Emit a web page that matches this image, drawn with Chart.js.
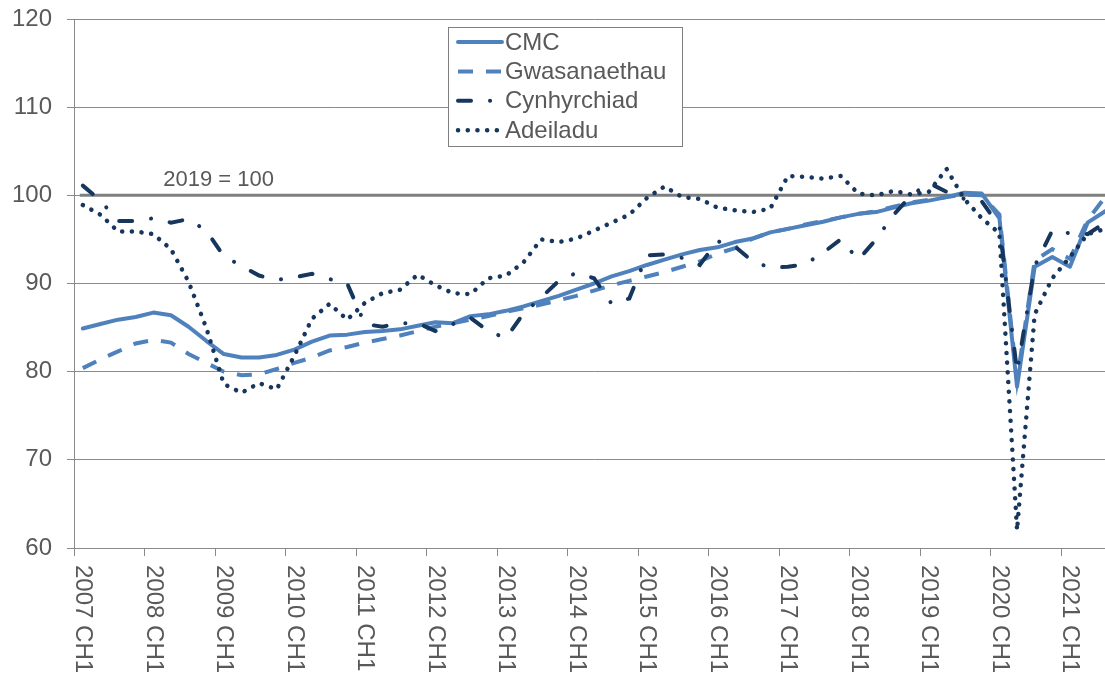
<!DOCTYPE html>
<html>
<head>
<meta charset="utf-8">
<script src="https://cdn.jsdelivr.net/npm/chart.js@4.4.0/dist/chart.umd.min.js"></script>
<style>
  html, body { margin: 0; padding: 0; background: #fff; overflow: hidden; }
  canvas { display: block; }
</style>
</head>
<body>
<canvas id="gdpChart" width="1114" height="677"></canvas>
<script>
// quarters 2007 CH1 .. 2021 CH3
const years = [2007, 2008, 2009, 2010, 2011, 2012, 2013, 2014, 2015, 2016, 2017, 2018, 2019, 2020, 2021];
const categories = [];
years.forEach(y => { for (let q = 1; q <= 4; q++) categories.push(y + ' CH' + q); });
categories.length = 59;

const tickLabels = years.map(y => y + ' CH1');
const yTicks = [60, 70, 80, 90, 100, 110, 120];
const refValue = 100;
const refLabel = '2019 = 100';

const cmc = [
  84.9, 85.4, 85.9, 86.2, 86.7, 86.4, 85.1, 83.5, 82.0, 81.6,
  81.6, 81.9, 82.5, 83.4, 84.1, 84.2, 84.5, 84.6, 84.8, 85.2,
  85.6, 85.5, 86.3, 86.5, 86.9, 87.4, 88.0, 88.6, 89.3, 90.0,
  90.8, 91.4, 92.1, 92.7, 93.3, 93.8, 94.1, 94.7, 95.1, 95.8,
  96.2, 96.6, 97.0, 97.5, 97.9, 98.1, 98.6, 99.1, 99.4, 99.8,
  100.3, 100.2, 97.4, 78.3, 91.9, 93.0, 91.9, 96.9, 98.2
];
const gwasanaethau = [
  80.4, 81.4, 82.3, 83.2, 83.6, 83.3, 82.0, 81.0, 80.0, 79.6,
  79.7, 80.3, 81.0, 81.6, 82.4, 82.8, 83.3, 83.7, 84.1, 84.6,
  85.1, 85.5, 85.9, 86.3, 86.8, 87.2, 87.6, 88.1, 88.6, 89.2,
  89.8, 90.3, 90.8, 91.3, 91.9, 92.5, 93.4, 94.0, 95.1, 95.8,
  96.2, 96.7, 97.1, 97.5, 97.9, 98.2, 98.7, 99.2, 99.5, 99.8,
  100.1, 100.0, 97.8, 79.0, 92.6, 93.9, 92.8, 97.2, 99.8
];
const cynhyrchiad = [
  101.1, 99.4, 97.1, 97.1, 97.4, 96.9, 97.3, 96.0, 93.1, 92.0,
  90.9, 90.4, 90.7, 91.1, 90.5, 90.0, 85.4, 85.1, 85.5, 85.5,
  84.6, 85.4, 86.1, 84.6, 83.8, 86.6, 88.4, 90.3, 91.2, 90.6,
  87.7, 88.3, 93.2, 93.3, 92.9, 92.1, 94.8, 94.2, 92.5, 91.8,
  91.9, 92.2, 93.5, 95.0, 92.7, 95.0, 97.8, 100.0, 101.4, 100.4,
  99.6, 99.3, 96.5, 80.0, 92.0, 96.0, 95.7, 95.6, 96.9
];
const adeiladu = [
  98.9, 97.8, 95.9, 95.9, 95.6, 93.9, 90.2, 85.0, 78.6, 77.6,
  78.7, 78.0, 81.8, 86.0, 87.7, 85.9, 87.8, 88.9, 89.3, 91.0,
  89.8, 88.9, 88.8, 90.6, 90.9, 92.4, 95.0, 94.7, 95.1, 96.0,
  96.9, 97.8, 99.7, 101.0, 99.8, 99.6, 98.6, 98.3, 98.1, 98.5,
  102.2, 102.1, 101.9, 102.2, 100.2, 100.0, 100.5, 100.1, 100.4, 103.0,
  99.6, 97.4, 95.7, 62.0, 86.5, 90.6, 93.0, 95.6, 96.2
];

const BLUE = '#4F81BD';
const NAVY = '#17365D';
const GRID = '#8a8a8a';
const TEXT = '#595959';
const FONT = '"Liberation Sans", Arial, sans-serif';

// grey "2019 = 100" line and its label
const refLinePlugin = {
  id: 'refLine',
  beforeDatasetsDraw(chart) {
    const { ctx, chartArea, scales: { x, y } } = chart;
    const py = y.getPixelForValue(refValue);
    ctx.save();
    ctx.strokeStyle = '#7f7f7f';
    ctx.lineWidth = 3;
    ctx.beginPath();
    ctx.moveTo(x.getPixelForValue(0) - 3, py);
    ctx.lineTo(chartArea.right, py);
    ctx.stroke();
    ctx.font = '22px ' + FONT;
    ctx.fillStyle = TEXT;
    ctx.textAlign = 'center';
    ctx.textBaseline = 'middle';
    ctx.fillText(refLabel, x.getPixelForValue(7.7), y.getPixelForValue(101.8));
    ctx.restore();
  }
};

// x labels read top to bottom, so draw them rotated clockwise
const xLabelPlugin = {
  id: 'xLabels',
  afterDraw(chart) {
    const { ctx, scales: { x } } = chart;
    ctx.save();
    ctx.font = '24px ' + FONT;
    ctx.fillStyle = TEXT;
    ctx.textAlign = 'left';
    ctx.textBaseline = 'middle';
    categories.forEach((c, i) => {
      if (!tickLabels.includes(c)) return;
      ctx.save();
      ctx.translate(x.getPixelForValue(i), x.top + 17);
      ctx.rotate(Math.PI / 2);
      ctx.fillText(c, 0, 0);
      ctx.restore();
    });
    ctx.restore();
  }
};

// boxed legend inside the plot
const legendPlugin = {
  id: 'boxLegend',
  afterDatasetsDraw(chart) {
    const ctx = chart.ctx;
    const bx = 448, by = 27, bw = 234, bh = 119;
    ctx.save();
    ctx.fillStyle = '#fff';
    ctx.fillRect(bx, by, bw, bh);
    ctx.strokeStyle = '#7f7f7f';
    ctx.lineWidth = 1;
    ctx.strokeRect(bx + 0.5, by + 0.5, bw, bh);
    chart.data.datasets.forEach((ds, k) => {
      const ly = by + 15 + k * 29.4;
      ctx.save();
      ctx.strokeStyle = ds.borderColor;
      ctx.lineWidth = ds.borderWidth;
      ctx.lineCap = ds.borderCapStyle || 'butt';
      ctx.setLineDash(ds.borderDash || []);
      ctx.beginPath();
      ctx.moveTo(bx + 10, ly);
      ctx.lineTo(bx + 54, ly);
      ctx.stroke();
      ctx.restore();
      ctx.font = '24px ' + FONT;
      ctx.fillStyle = TEXT;
      ctx.textBaseline = 'middle';
      ctx.fillText(ds.label, bx + 57, ly + 1);
    });
    ctx.restore();
  }
};

new Chart(document.getElementById('gdpChart'), {
  type: 'line',
  data: {
    labels: categories,
    datasets: [
      { label: 'CMC', data: cmc, borderColor: BLUE, borderWidth: 4,
        borderCapStyle: 'round', borderJoinStyle: 'round', order: 4 },
      { label: 'Gwasanaethau', data: gwasanaethau, borderColor: BLUE, borderWidth: 4,
        borderDash: [15, 13], borderCapStyle: 'butt', order: 3 },
      { label: 'Cynhyrchiad', data: cynhyrchiad, borderColor: NAVY, borderWidth: 4,
        borderDash: [13, 19, 0.1, 19], borderCapStyle: 'round', order: 2 },
      { label: 'Adeiladu', data: adeiladu, borderColor: NAVY, borderWidth: 4.5,
        borderDash: [0.1, 9.6], borderCapStyle: 'round', order: 1 }
    ]
  },
  options: {
    responsive: false,
    animation: false,
    devicePixelRatio: 1,
    layout: { padding: { top: 19, left: 0, right: 0, bottom: 0 } },
    elements: { point: { radius: 0 }, line: { tension: 0, fill: false } },
    plugins: { legend: { display: false }, tooltip: { enabled: false } },
    scales: {
      x: {
        type: 'category',
        offset: true,
        afterFit(scale) { scale.height = 129; scale.paddingLeft = 0; scale.paddingRight = 0; },
        ticks: { display: false, autoSkip: false },
        grid: {
          offset: true,
          drawOnChartArea: false,
          drawTicks: true,
          tickLength: 8,
          color: GRID,
          tickColor: ctx => (ctx.index !== undefined && ctx.index % 4 === 0) ? GRID : 'rgba(0,0,0,0)'
        },
        border: { display: true, color: GRID, width: 1 }
      },
      y: {
        min: yTicks[0],
        max: yTicks[yTicks.length - 1],
        afterFit(scale) { scale.width = 74; scale.paddingTop = 0; scale.paddingBottom = 0; },
        afterBuildTicks(scale) { scale.ticks = yTicks.map(v => ({ value: v })); },
        ticks: { color: TEXT, font: { family: FONT, size: 24 }, padding: 15 },
        grid: { color: GRID, lineWidth: 1, tickLength: 7, drawTicks: true },
        border: { display: true, color: GRID, width: 1 }
      }
    }
  },
  plugins: [refLinePlugin, xLabelPlugin, legendPlugin]
});
</script>
</body>
</html>
